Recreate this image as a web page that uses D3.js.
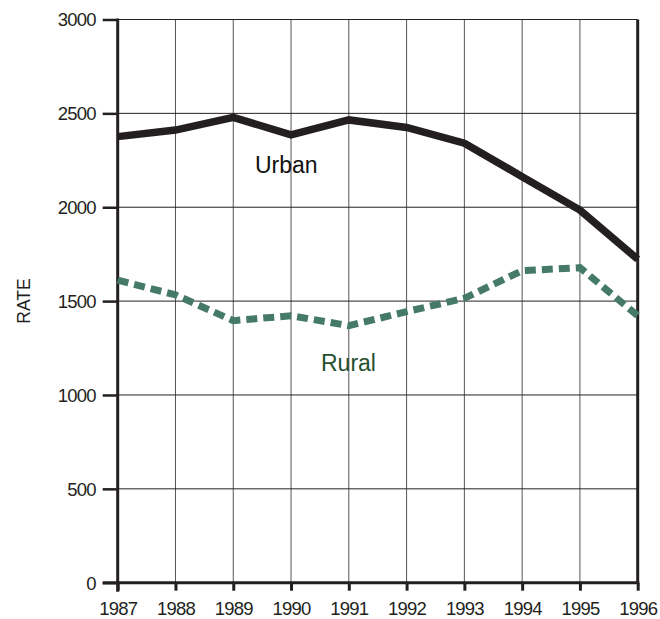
<!DOCTYPE html>
<html><head><meta charset="utf-8">
<script src="https://cdn.jsdelivr.net/npm/d3@7"></script>
<style>
body{margin:0;background:#fff;}
text{font-family:"Liberation Sans",Arial,sans-serif;}
</style></head>
<body><svg id="c" width="660" height="619"></svg>
<script>
const years = [1987,1988,1989,1990,1991,1992,1993,1994,1995,1996];
const urban = [2376,2411,2479,2385,2465,2425,2341,2163,1985,1723];
const rural = [1612,1533,1396,1422,1369,1444,1515,1662,1678,1422];
const yTicks = [0,500,1000,1500,2000,2500,3000];
const seriesLabels = ["Urban","Rural"];
const yTitle = "RATE";

const L=117.7, R=637.7, T=19.5, B=582.7;
const svg = d3.select("#c");
const x = d3.scaleLinear().domain([1987,1996]).range([L,R]);
const y = d3.scaleLinear().domain([0,3000]).range([B,T]);

// vertical grid
svg.append("g").selectAll("line").data(years.slice(1,-1)).join("line")
  .attr("x1",d=>x(d)).attr("x2",d=>x(d)).attr("y1",T).attr("y2",B)
  .attr("stroke","#555").attr("stroke-width",1);
// horizontal grid
svg.append("g").selectAll("line").data(yTicks.slice(1)).join("line")
  .attr("x1",L).attr("x2",R).attr("y1",d=>y(d)).attr("y2",d=>y(d))
  .attr("stroke","#222").attr("stroke-width",1);
// right border
svg.append("line").attr("x1",R).attr("x2",R).attr("y1",T).attr("y2",B)
  .attr("stroke","#231f20").attr("stroke-width",3);

// y axis
const yAxis = d3.axisLeft(y).tickValues(yTicks).tickSize(15).tickPadding(8).tickFormat(d3.format("d"));
const gy = svg.append("g").attr("transform",`translate(${L},0)`).call(yAxis);
gy.select(".domain").remove();
gy.selectAll(".tick line").attr("stroke","#231f20").attr("stroke-width",2.5);
gy.selectAll(".tick text").attr("font-size",18.5).attr("letter-spacing","-0.8px")
  .attr("fill","#231f20").attr("dy","0.35em").attr("x",-22);
svg.append("line").attr("x1",L).attr("x2",L).attr("y1",T-1).attr("y2",B+9)
  .attr("stroke","#231f20").attr("stroke-width",3);

// x axis
const xAxis = d3.axisBottom(x).tickValues(years).tickSize(8).tickPadding(5).tickFormat(d3.format("d"));
const gx = svg.append("g").attr("transform",`translate(0,${B})`).call(xAxis);
gx.select(".domain").remove();
gx.selectAll(".tick line").attr("stroke","#231f20").attr("stroke-width",3);
gx.selectAll(".tick text").attr("font-size",18.5).attr("letter-spacing","-0.8px")
  .attr("fill","#231f20").attr("dy",null).attr("y",32);
svg.append("line").attr("x1",L-15).attr("x2",R+1.5).attr("y1",B).attr("y2",B)
  .attr("stroke","#231f20").attr("stroke-width",3);

// lines
const line = d3.line().x((d,i)=>x(years[i])).y(d=>y(d));
svg.append("path").datum(rural).attr("d",line).attr("fill","none")
  .attr("stroke","#467a68").attr("stroke-width",7).attr("stroke-dasharray","11,6");
svg.append("path").datum(urban).attr("d",line).attr("fill","none")
  .attr("stroke","#231f20").attr("stroke-width",7.5).attr("stroke-linejoin","miter");

// labels
svg.append("text").attr("x",255).attr("y",173).attr("font-size",23).attr("fill","#111")
  .text(seriesLabels[0]);
svg.append("text").attr("x",321).attr("y",371).attr("font-size",23).attr("fill","#24502f")
  .text(seriesLabels[1]);
svg.append("text").attr("transform","translate(30,301) rotate(-90)").attr("text-anchor","middle")
  .attr("font-size",17.5).attr("fill","#231f20").text(yTitle);
</script></body></html>
